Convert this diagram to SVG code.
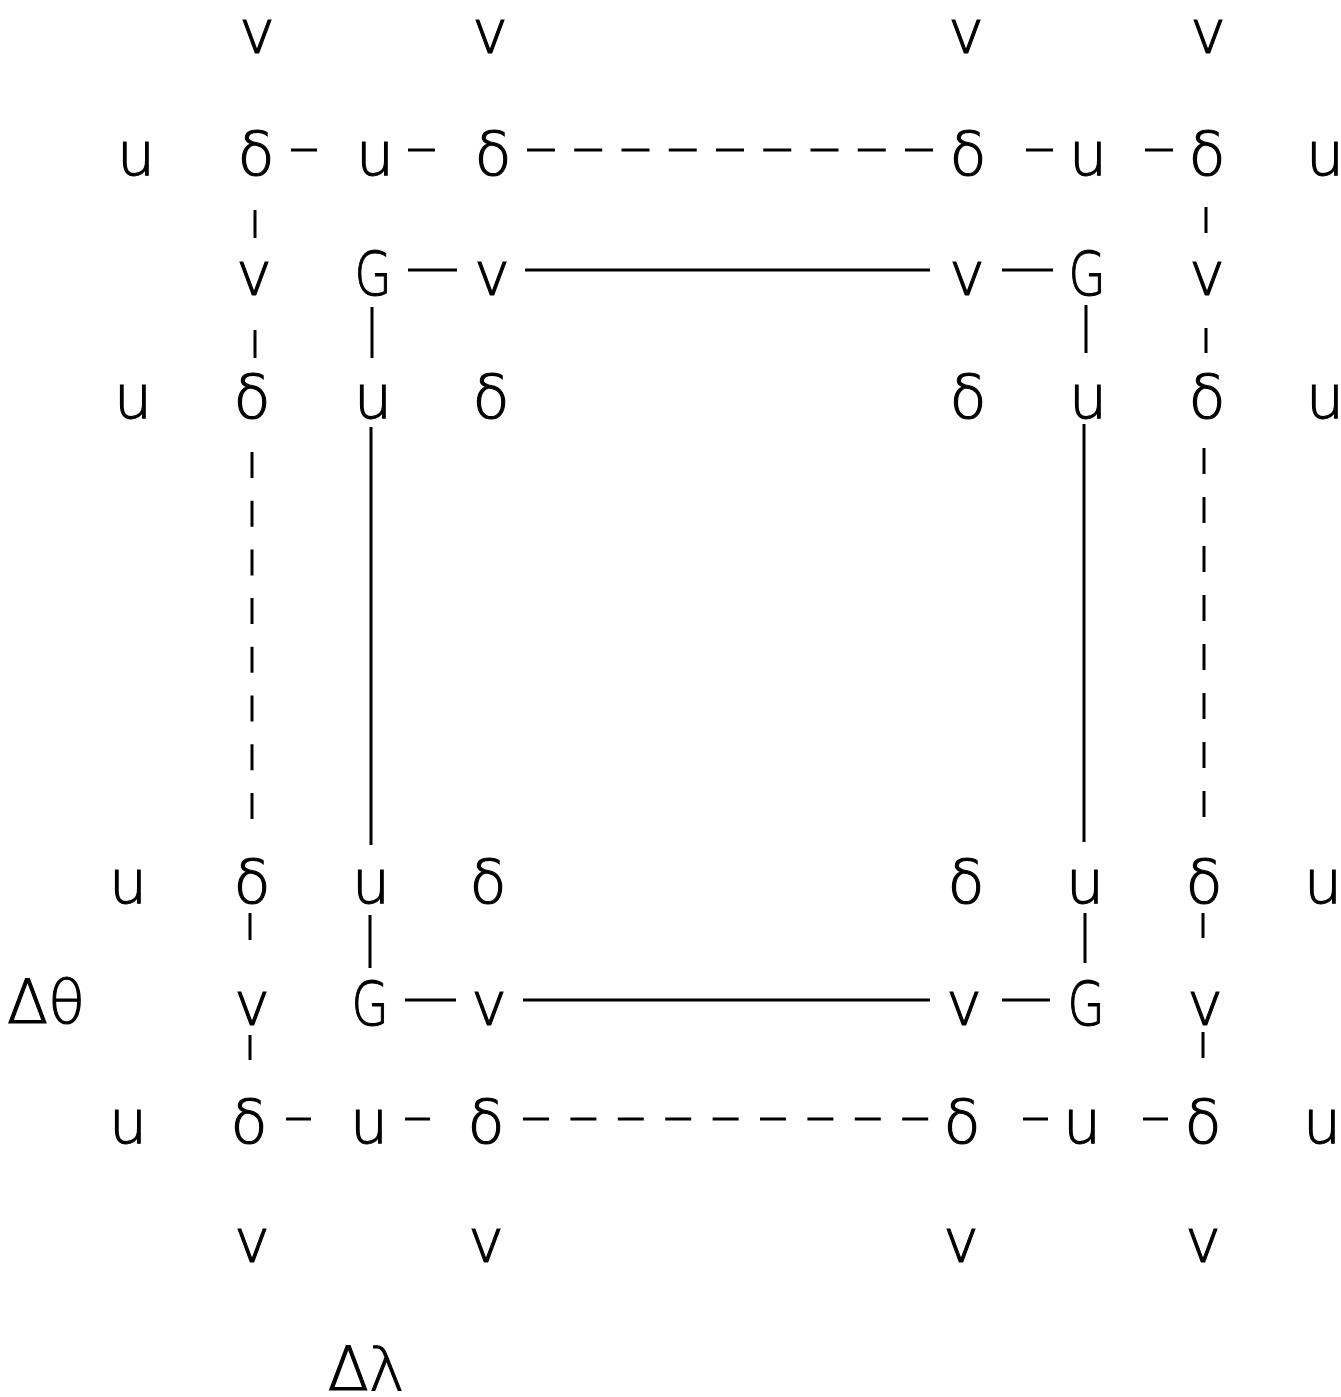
<svg xmlns="http://www.w3.org/2000/svg" width="1341" height="1397" viewBox="0 0 1341 1397">
<style>
text{font-family:"DejaVu Sans","Liberation Sans",sans-serif;font-size:60px;fill:#000;stroke:#000;stroke-width:1.1;text-anchor:middle;font-weight:200}
.c line{stroke:#000;stroke-width:3;fill:none}
.dh{stroke-dasharray:28 19.25}
.dh2{stroke-dasharray:26 21.4}
.dv{stroke-dasharray:26 22.7}
.dv2{stroke-dasharray:26 23}
</style>
<rect width="1341" height="1397" fill="#fff"/>
<g class="c" id="connectors">
<line x1="291" y1="150" x2="317" y2="150"/>
<line x1="408" y1="150" x2="435" y2="150"/>
<line class="dh" x1="527" y1="150" x2="933" y2="150"/>
<line x1="1026" y1="150" x2="1053" y2="150"/>
<line x1="1145" y1="150" x2="1173" y2="150"/>
<line x1="408" y1="270" x2="457" y2="270"/>
<line x1="525" y1="270" x2="930" y2="270"/>
<line x1="1002" y1="270" x2="1053" y2="270"/>
<line x1="255" y1="210" x2="255" y2="238"/>
<line x1="1206" y1="207" x2="1206" y2="233"/>
<line x1="255" y1="330" x2="255" y2="358"/>
<line x1="1206" y1="328" x2="1206" y2="353"/>
<line x1="372" y1="307" x2="372" y2="358"/>
<line x1="1086" y1="305" x2="1086" y2="353"/>
<line x1="371" y1="427" x2="371" y2="845"/>
<line x1="1084" y1="424" x2="1084" y2="842"/>
<line class="dv" x1="252" y1="452" x2="252" y2="820"/>
<line class="dv2" x1="1204" y1="448" x2="1204" y2="818"/>
<line x1="250" y1="913" x2="250" y2="940"/>
<line x1="370" y1="915" x2="370" y2="968"/>
<line x1="1085" y1="913" x2="1085" y2="963"/>
<line x1="1203" y1="913" x2="1203" y2="938"/>
<line x1="405" y1="1000" x2="456" y2="1000"/>
<line x1="523" y1="1000" x2="930" y2="1000"/>
<line x1="1002" y1="1000" x2="1050" y2="1000"/>
<line x1="250" y1="1035" x2="250" y2="1060"/>
<line x1="1203" y1="1032" x2="1203" y2="1058"/>
<line x1="286" y1="1119" x2="311" y2="1119"/>
<line x1="405" y1="1119" x2="430" y2="1119"/>
<line class="dh2" x1="523" y1="1119" x2="929" y2="1119"/>
<line x1="1023" y1="1119" x2="1048" y2="1119"/>
<line x1="1143" y1="1119" x2="1168" y2="1119"/>
</g>
<g id="r1v1"><text x="257" y="53">v</text></g>
<g id="r1v2"><text x="490" y="53">v</text></g>
<g id="r1v3"><text x="966" y="53">v</text></g>
<g id="r1v4"><text x="1208" y="53">v</text></g>
<g id="r2u1"><text x="136" y="175">u</text></g>
<g id="r2d1"><text x="256" y="175">δ</text></g>
<g id="r2u2"><text x="375" y="175">u</text></g>
<g id="r2d2"><text x="493" y="175">δ</text></g>
<g id="r2d3"><text x="968" y="175">δ</text></g>
<g id="r2u3"><text x="1088" y="175">u</text></g>
<g id="r2d4"><text x="1207" y="175">δ</text></g>
<g id="r2u4"><text x="1325" y="175">u</text></g>
<g id="r3v1"><text x="254" y="295">v</text></g>
<g id="r3G1"><text x="373" y="295" transform="translate(373 0) scale(0.8 1) translate(-373 0)">G</text></g>
<g id="r3v2"><text x="492" y="295">v</text></g>
<g id="r3v3"><text x="967" y="295">v</text></g>
<g id="r3G2"><text x="1087" y="295" transform="translate(1087 0) scale(0.8 1) translate(-1087 0)">G</text></g>
<g id="r3v4"><text x="1207" y="295">v</text></g>
<g id="r4u1"><text x="133" y="418">u</text></g>
<g id="r4d1"><text x="252" y="418">δ</text></g>
<g id="r4u2"><text x="373" y="418">u</text></g>
<g id="r4d2"><text x="491" y="418">δ</text></g>
<g id="r4d3"><text x="968" y="418">δ</text></g>
<g id="r4u3"><text x="1088" y="418">u</text></g>
<g id="r4d4"><text x="1207" y="418">δ</text></g>
<g id="r4u4"><text x="1325" y="418">u</text></g>
<g id="r5u1"><text x="128" y="903">u</text></g>
<g id="r5d1"><text x="252" y="903">δ</text></g>
<g id="r5u2"><text x="371" y="903">u</text></g>
<g id="r5d2"><text x="488" y="903">δ</text></g>
<g id="r5d3"><text x="966" y="903">δ</text></g>
<g id="r5u3"><text x="1085" y="903">u</text></g>
<g id="r5d4"><text x="1204" y="903">δ</text></g>
<g id="r5u4"><text x="1323" y="903">u</text></g>
<g id="dtheta"><text x="46" y="1023">Δθ</text></g>
<g id="r6v1"><text x="252" y="1025">v</text></g>
<g id="r6G1"><text x="370" y="1025" transform="translate(370 0) scale(0.8 1) translate(-370 0)">G</text></g>
<g id="r6v2"><text x="489" y="1025">v</text></g>
<g id="r6v3"><text x="964" y="1025">v</text></g>
<g id="r6G2"><text x="1086" y="1025" transform="translate(1086 0) scale(0.8 1) translate(-1086 0)">G</text></g>
<g id="r6v4"><text x="1205" y="1025">v</text></g>
<g id="r7u1"><text x="128" y="1143">u</text></g>
<g id="r7d1"><text x="249" y="1143">δ</text></g>
<g id="r7u2"><text x="369" y="1143">u</text></g>
<g id="r7d2"><text x="486" y="1143">δ</text></g>
<g id="r7d3"><text x="962" y="1143">δ</text></g>
<g id="r7u3"><text x="1082" y="1143">u</text></g>
<g id="r7d4"><text x="1203" y="1143">δ</text></g>
<g id="r7u4"><text x="1322" y="1143">u</text></g>
<g id="r8v1"><text x="252" y="1262">v</text></g>
<g id="r8v2"><text x="486" y="1262">v</text></g>
<g id="r8v3"><text x="961" y="1262">v</text></g>
<g id="r8v4"><text x="1203" y="1262">v</text></g>
<g id="dlambda"><text x="366" y="1390">Δλ</text></g>
</svg>
